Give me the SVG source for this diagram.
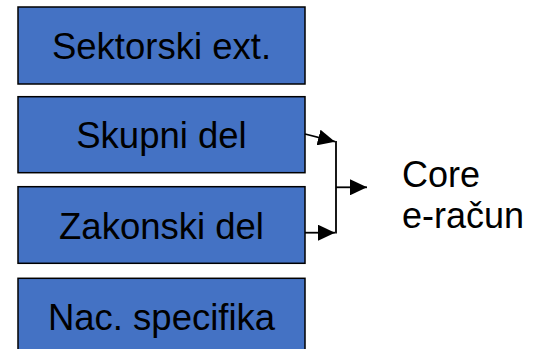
<svg xmlns="http://www.w3.org/2000/svg" width="533" height="349" viewBox="0 0 533 349">
<style>
.box{fill:#4472C4;stroke:#000;stroke-width:1.5}
.lbl{font-family:"Liberation Sans",Arial,sans-serif;font-size:36.5px;fill:#000;text-anchor:middle}
.txt{font-family:"Liberation Sans",Arial,sans-serif;font-size:36px;fill:#000}
.con{fill:none;stroke:#000;stroke-width:1.8}
</style>
<defs>
<marker id="ah" markerUnits="userSpaceOnUse" markerWidth="17" markerHeight="16" refX="17" refY="8" orient="auto">
<path d="M0,0 L17,8 L0,16 z" fill="#000"/>
</marker>
</defs>
<rect width="533" height="349" fill="#fff"/>
<g id="n1"><rect class="box" x="18" y="7" width="287" height="77"/><text class="lbl" x="161.5" y="59">Sektorski ext.</text></g>
<g id="n2"><rect class="box" x="18" y="96.7" width="287" height="76"/><text class="lbl" x="161.5" y="148">Skupni del</text></g>
<g id="n3"><rect class="box" x="18" y="186.7" width="287" height="76.6"/><text class="lbl" x="161.5" y="238.5">Zakonski del</text></g>
<g id="n4"><rect class="box" x="18" y="278.3" width="287" height="80"/><text class="lbl" x="161.5" y="330">Nac. specifika</text></g>
<g id="n5"><text class="txt" x="402" y="186.7">Core</text><text class="txt" x="402" y="227.7">e-račun</text></g>
<g id="connectors">
<line class="con" x1="305" y1="134" x2="335" y2="141.7" marker-end="url(#ah)"/>
<line class="con" x1="305" y1="232.7" x2="335" y2="232.7" marker-end="url(#ah)"/>
<line class="con" x1="336" y1="141" x2="336" y2="233.5"/>
<line class="con" x1="336" y1="187.3" x2="367" y2="187.3" marker-end="url(#ah)"/>
</g>
</svg>
